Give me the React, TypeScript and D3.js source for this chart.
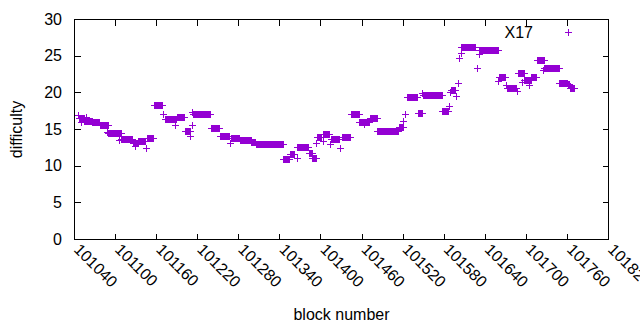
import { useEffect, useRef } from 'react';
import * as d3 from 'd3';

const seriesName = 'X17';
const xLabel = 'block number';
const yLabel = 'difficulty';

const xTicks = [101040, 101100, 101160, 101220, 101280, 101340, 101400, 101460, 101520, 101580, 101640, 101700, 101760, 101820];
const yTicks = [0, 5, 10, 15, 20, 25, 30];

// [first block, last block, difficulty] — difficulty stays flat across each run
const runs: [number, number, number][] = [
  [101046, 101046, 16.9],
  [101047, 101054, 16.5],
  [101050, 101050, 15.9],
  [101055, 101066, 16.1],
  [101057, 101057, 16.6],
  [101067, 101077, 15.9],
  [101078, 101089, 15.5],
  [101088, 101088, 14.6],
  [101090, 101108, 14.4],
  [101106, 101106, 13.5],
  [101109, 101125, 13.6],
  [101126, 101133, 13.1],
  [101129, 101129, 12.7],
  [101134, 101144, 13.4],
  [101145, 101145, 12.35],
  [101146, 101156, 13.8],
  [101157, 101168, 18.25],
  [101170, 101170, 17.1],
  [101173, 101189, 16.35],
  [101188, 101188, 15.5],
  [101190, 101200, 16.6],
  [101202, 101209, 14.7],
  [101210, 101210, 14.0],
  [101212, 101212, 15.6],
  [101213, 101213, 17.35],
  [101214, 101239, 17.1],
  [101240, 101252, 15.1],
  [101253, 101267, 14.0],
  [101268, 101268, 13.05],
  [101269, 101281, 13.8],
  [101282, 101298, 13.5],
  [101299, 101305, 13.2],
  [101306, 101345, 12.9],
  [101346, 101354, 10.9],
  [101355, 101362, 11.6],
  [101365, 101365, 11.0],
  [101366, 101382, 12.5],
  [101383, 101387, 11.7],
  [101388, 101393, 11.0],
  [101394, 101394, 13.05],
  [101395, 101401, 13.9],
  [101403, 101403, 13.3],
  [101404, 101412, 14.3],
  [101414, 101414, 12.95],
  [101416, 101427, 13.7],
  [101428, 101428, 12.35],
  [101431, 101443, 13.9],
  [101444, 101456, 17.05],
  [101457, 101471, 16.0],
  [101463, 101463, 15.7],
  [101472, 101482, 16.45],
  [101483, 101513, 14.7],
  [101514, 101520, 15.25],
  [101521, 101521, 16.1],
  [101524, 101524, 17.05],
  [101526, 101541, 19.4],
  [101543, 101548, 17.25],
  [101549, 101549, 19.95],
  [101550, 101577, 19.65],
  [101578, 101587, 17.45],
  [101588, 101588, 18.2],
  [101589, 101589, 20.1],
  [101590, 101597, 20.25],
  [101598, 101598, 19.45],
  [101601, 101601, 21.25],
  [101603, 101603, 24.65],
  [101605, 101605, 25.3],
  [101606, 101626, 26.15],
  [101629, 101629, 23.3],
  [101631, 101631, 25.2],
  [101632, 101660, 25.75],
  [101660, 101660, 21.5],
  [101661, 101670, 22.05],
  [101671, 101671, 21.0],
  [101672, 101686, 20.65],
  [101687, 101687, 20.15],
  [101688, 101697, 22.7],
  [101694, 101694, 21.45],
  [101698, 101707, 21.7],
  [101704, 101704, 21.0],
  [101708, 101715, 22.1],
  [101716, 101726, 24.4],
  [101725, 101725, 23.1],
  [101727, 101748, 23.3],
  [101749, 101760, 21.3],
  [101761, 101763, 21.1],
  [101764, 101771, 20.55],
];

const color = '#9400d3';
const font = '"Liberation Sans", Arial, sans-serif';

export default function App() {
  const svgRef = useRef<SVGSVGElement>(null);

  useEffect(() => {
    if (!svgRef.current) return;
    const width = 640;
    const height = 330;
    const margin = { top: 19, right: 32, bottom: 91, left: 74 };
    const innerW = width - margin.left - margin.right;
    const innerH = height - margin.top - margin.bottom;

    const svg = d3.select(svgRef.current);
    svg.selectAll('*').remove();

    const x = d3.scaleLinear().domain([xTicks[0], xTicks[xTicks.length - 1]]).range([margin.left, margin.left + innerW]);
    const y = d3.scaleLinear().domain([yTicks[0], yTicks[yTicks.length - 1]]).range([margin.top + innerH, margin.top]);

    const points: { b: number; v: number }[] = [];
    runs.forEach(([from, to, v]) => {
      for (let b = from; b <= to; b++) points.push({ b, v });
    });

    const plus = (cx: number, cy: number) => {
      const px = Math.round(cx);
      const py = Math.round(cy);
      return `M${px - 3},${py + 0.5}H${px + 4}M${px + 0.5},${py - 3}V${py + 4}`;
    };

    svg.append('g')
      .selectAll('path')
      .data(points)
      .join('path')
      .attr('d', d => plus(x(d.b), y(d.v)))
      .attr('stroke', color)
      .attr('stroke-width', 1)
      .attr('fill', 'none')
      .attr('shape-rendering', 'crispEdges');

    const axes = svg.append('g')
      .attr('stroke', '#000')
      .attr('stroke-width', 1)
      .attr('shape-rendering', 'crispEdges');

    const tick = 6;
    const left = Math.round(x.range()[0]) + 0.5;
    const right = Math.round(x.range()[1]) + 0.5;
    const top = Math.round(y.range()[1]) + 0.5;
    const bottom = Math.round(y.range()[0]) + 0.5;

    yTicks.forEach(t => {
      const ty = Math.round(y(t)) + 0.5;
      axes.append('line').attr('x1', left).attr('x2', left + tick).attr('y1', ty).attr('y2', ty);
      axes.append('line').attr('x1', right).attr('x2', right - tick).attr('y1', ty).attr('y2', ty);
    });
    xTicks.forEach(t => {
      const tx = Math.round(x(t)) + 0.5;
      axes.append('line').attr('x1', tx).attr('x2', tx).attr('y1', bottom).attr('y2', bottom - tick);
      axes.append('line').attr('x1', tx).attr('x2', tx).attr('y1', top).attr('y2', top + tick);
    });

    axes.append('rect')
      .attr('x', left).attr('y', top)
      .attr('width', right - left).attr('height', bottom - top)
      .attr('fill', 'none');

    const labels = svg.append('g')
      .style('font-family', font)
      .style('font-size', '16px')
      .attr('fill', '#000');

    labels.selectAll('.ylab')
      .data(yTicks)
      .join('text')
      .attr('class', 'ylab')
      .attr('x', 62)
      .attr('y', d => y(d) + 5.5)
      .attr('text-anchor', 'end')
      .text(d => d);

    labels.selectAll('.xlab')
      .data(xTicks)
      .join('text')
      .attr('class', 'xlab')
      .attr('transform', d => `translate(${x(d) - 1},${bottom + 11}) rotate(45)`)
      .attr('text-anchor', 'start')
      .text(d => d);

    labels.append('text')
      .attr('transform', `translate(22,${(top + bottom) / 2}) rotate(-90)`)
      .attr('text-anchor', 'middle')
      .text(yLabel);

    labels.append('text')
      .attr('x', (left + right) / 2)
      .attr('y', 320)
      .attr('text-anchor', 'middle')
      .text(xLabel);

    labels.append('text')
      .attr('x', 533)
      .attr('y', 37.5)
      .attr('text-anchor', 'end')
      .text(seriesName);

    svg.append('path')
      .attr('d', plus(568, 32))
      .attr('stroke', color)
      .attr('fill', 'none')
      .attr('shape-rendering', 'crispEdges');
  }, []);

  return (
    <svg
      ref={svgRef}
      width={640}
      height={330}
      style={{ position: 'absolute', left: 0, top: 0, background: '#fff' }}
    />
  );
}
